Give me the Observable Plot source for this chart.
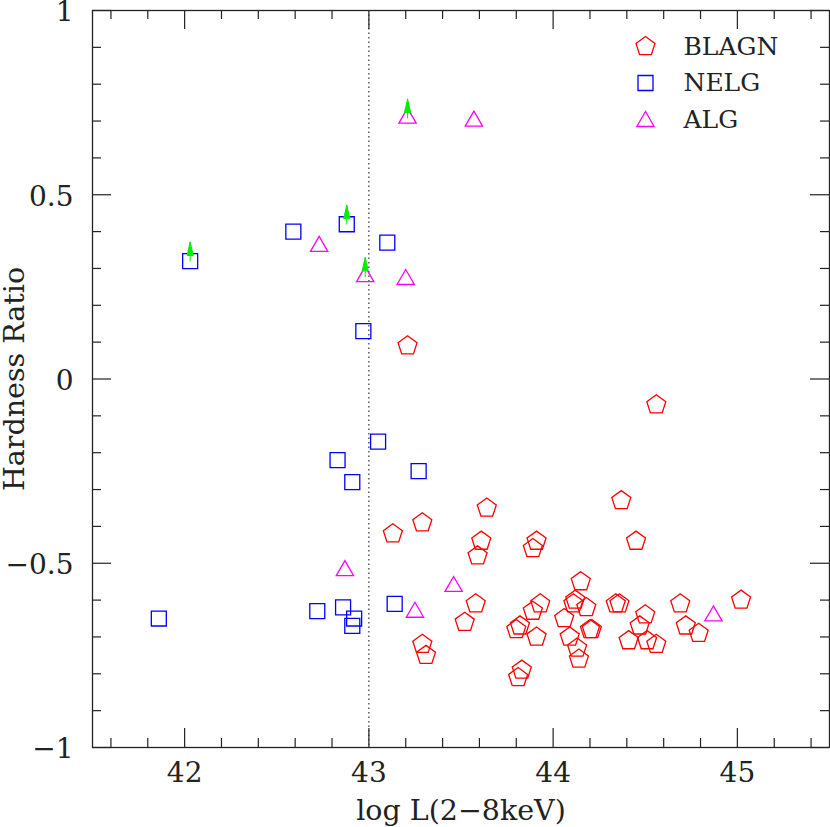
<!DOCTYPE html>
<html><head><meta charset="utf-8">
<script src="https://cdn.jsdelivr.net/npm/d3@7"></script>
<script src="https://cdn.jsdelivr.net/npm/@observablehq/plot@0.6"></script>
<style>
body{margin:0;background:#fff;}
#chart{width:830px;height:827px;}
</style></head><body><div id="chart"></div>
<script>
// ---- data ----
const blagnX = [43.21,44.56,43.13,43.29,43.64,44.37,44.45,43.61,43.59,43.91,43.89,44.15,43.58,43.52,43.29,43.31,43.82,43.80,43.91,43.93,43.89,43.83,43.81,44.12,44.11,44.18,44.06,44.09,44.13,44.14,44.20,44.21,44.34,44.36,44.50,44.47,44.41,44.51,44.56,44.69,44.72,44.79,45.02];
const blagnY = [0.09,-0.07,-0.42,-0.39,-0.35,-0.33,-0.44,-0.44,-0.48,-0.44,-0.46,-0.55,-0.61,-0.66,-0.72,-0.75,-0.67,-0.68,-0.70,-0.61,-0.63,-0.79,-0.81,-0.60,-0.61,-0.62,-0.65,-0.70,-0.73,-0.76,-0.68,-0.68,-0.61,-0.61,-0.64,-0.67,-0.71,-0.71,-0.72,-0.61,-0.67,-0.69,-0.60];

const nelgX = [42.03,42.59,42.88,43.10,42.97,43.05,42.83,42.91,43.27,41.86,42.72,42.86,42.92,42.91,43.14];
const nelgY = [0.32,0.40,0.42,0.37,0.13,-0.17,-0.22,-0.28,-0.25,-0.65,-0.63,-0.62,-0.65,-0.67,-0.61];
const nelgLimit = [1,0,1,0,0,0,0,0,0,0,0,0,0,0,0];

const algX = [42.73,42.98,43.20,43.21,43.57,42.87,43.25,43.46,44.87];
const algY = [0.36,0.278,0.27,0.708,0.70,-0.52,-0.633,-0.563,-0.643];
const algLimit = [0,1,0,1,0,0,0,0,0];

const legendLabels = ["BLAGN","NELG","ALG"];

const xDomain = [41.5, 45.5];
const yDomain = [-1, 1];
const xMajor = [42, 43, 44, 45];
const xMinor = [41.6,41.8,42.2,42.4,42.6,42.8,43.2,43.4,43.6,43.8,44.2,44.4,44.6,44.8,45.2,45.4];
const yMajor = [-1, -0.5, 0, 0.5, 1];
const yMinor = [-0.9,-0.8,-0.7,-0.6,-0.4,-0.3,-0.2,-0.1,0.1,0.2,0.3,0.4,0.6,0.7,0.8,0.9];
const divider = [43];

// ---- build ----
const W = 830, H = 827, mL = 92, mR = 1, mT = 10, mB = 80;
const pw = W - mL - mR, ph = H - mT - mB;
const FONT = "DejaVu Serif";
const INK = "#222";
const RED = "#ff0000", BLUE = "#0000ff", MAG = "#ff00ff", GREEN = "#00ee00";

const pentagon = {
  draw(ctx, size) {
    const r = Math.sqrt(size / Math.PI);
    for (let i = 0; i < 5; i++) {
      const a = -Math.PI / 2 + i * 2 * Math.PI / 5;
      const px = r * Math.cos(a), py = r * Math.sin(a);
      if (i) ctx.lineTo(px, py); else ctx.moveTo(px, py);
    }
    ctx.closePath();
  }
};
const upArrow = {
  draw(ctx, l) {
    ctx.moveTo(0, 0); ctx.lineTo(0, -l);
    ctx.moveTo(-3, -l + 13); ctx.lineTo(0, -l); ctx.lineTo(3, -l + 13); ctx.closePath();
  }
};

const toRows = (xs, ys, lim) => xs.map((x, i) => ({x, y: ys[i], lim: lim ? lim[i] : 0}));
const blagn = toRows(blagnX, blagnY);
const nelg = toRows(nelgX, nelgY, nelgLimit);
const alg = toRows(algX, algY, algLimit);
const limits = [...nelg, ...alg].filter(d => d.lim);

const series = [
  {label: legendLabels[0], data: blagn, symbol: pentagon, r: 10, color: RED, ddy: 0},
  {label: legendLabels[1], data: nelg, symbol: "square", r: 8.46, color: BLUE, ddy: 0},
  {label: legendLabels[2], data: alg, symbol: "triangle", r: 6.43, color: MAG, ddy: 2}
];

const fmt = d => d < 0 ? "\u2212" + (-d) : String(d);

const marks = [
  Plot.frame({stroke: INK, strokeWidth: 1.3}),
  // inward ticks
  Plot.ruleX(xMajor, {x: d => d, insetTop: ph - 19, stroke: INK, strokeWidth: 1.2}),
  Plot.ruleX(xMajor, {x: d => d, insetBottom: ph - 19, stroke: INK, strokeWidth: 1.2}),
  Plot.ruleX(xMinor, {x: d => d, insetTop: ph - 9, stroke: INK, strokeWidth: 1.2}),
  Plot.ruleX(xMinor, {x: d => d, insetBottom: ph - 9, stroke: INK, strokeWidth: 1.2}),
  Plot.ruleY(yMajor, {y: d => d, insetRight: pw - 19, stroke: INK, strokeWidth: 1.2}),
  Plot.ruleY(yMajor, {y: d => d, insetLeft: pw - 19, stroke: INK, strokeWidth: 1.2}),
  Plot.ruleY(yMinor, {y: d => d, insetRight: pw - 9, stroke: INK, strokeWidth: 1.2}),
  Plot.ruleY(yMinor, {y: d => d, insetLeft: pw - 9, stroke: INK, strokeWidth: 1.2}),
  Plot.axisX({ticks: xMajor, tickSize: 0, tickPadding: 15, label: null, tickFormat: fmt, fontSize: 28, fill: INK}),
  Plot.axisY({ticks: yMajor, tickSize: 0, tickPadding: 19, dy: 2, label: null, tickFormat: fmt, fontSize: 28, fill: INK}),
  Plot.ruleX(divider, {x: d => d, stroke: "#333", strokeWidth: 1.2, strokeDasharray: "1.5,3"}),
  Plot.text(["log L(2\u22128keV)"], {x: null, y: null, frameAnchor: "bottom", dy: 63, textAnchor: "middle", lineAnchor: "middle", fontSize: 28.5, fill: INK}),
  Plot.text(["Hardness Ratio"], {x: null, y: null, frameAnchor: "left", dx: -77.5, rotate: -90, textAnchor: "middle", lineAnchor: "middle", fontSize: 28.5, fill: INK})
];

for (const s of series) {
  marks.push(Plot.dot(s.data, {x: "x", y: "y", symbol: s.symbol, r: s.r, fill: "none", stroke: s.color, strokeWidth: 1.3}));
}
marks.push(Plot.vector(limits, {x: "x", y: "y", length: 19, rotate: 0, anchor: "start", shape: upArrow, stroke: GREEN, fill: GREEN, strokeWidth: 1}));

series.forEach((s, i) => {
  const dy = 36 + 36.5 * i;
  marks.push(Plot.dot([s.label], {x: null, y: null, frameAnchor: "top-left", dx: 553, dy: dy + s.ddy, symbol: s.symbol, r: s.r, fill: "none", stroke: s.color, strokeWidth: 1.3}));
  marks.push(Plot.text([s.label], {x: null, y: null, text: d => d, frameAnchor: "top-left", dx: 591, dy: dy, textAnchor: "start", lineAnchor: "middle", fontSize: 25, fill: INK}));
});

const chart = Plot.plot({
  width: W, height: H,
  marginLeft: mL, marginRight: mR, marginTop: mT, marginBottom: mB,
  x: {domain: xDomain},
  y: {domain: yDomain},
  style: {fontFamily: FONT, background: "#fff", color: INK},
  marks
});
document.getElementById("chart").appendChild(chart);
</script></body></html>
